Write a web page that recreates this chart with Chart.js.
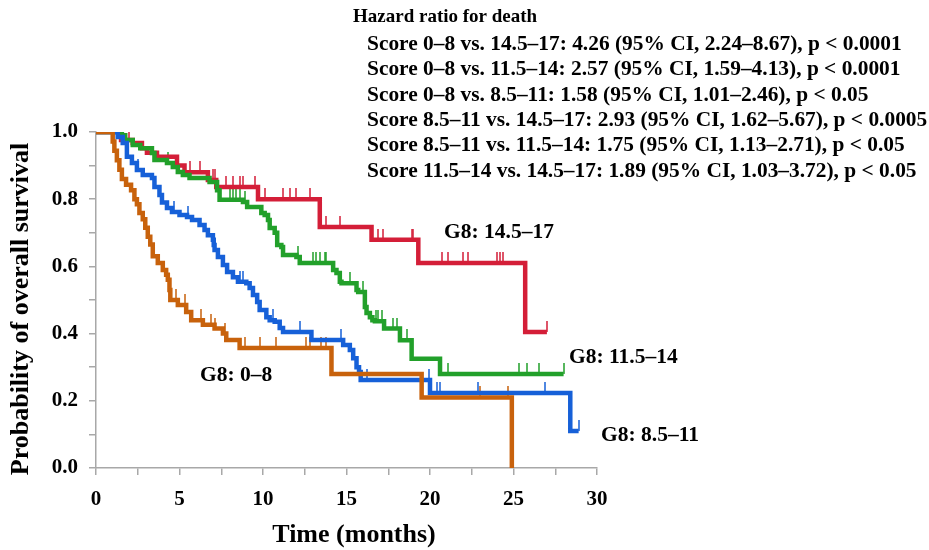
<!DOCTYPE html>
<html>
<head>
<meta charset="utf-8">
<script src="https://cdn.jsdelivr.net/npm/chart.js@4"></script>
<style>
  html, body { margin: 0; padding: 0; background: #fff; }
  #wrap { width: 929px; height: 550px; position: relative; }
</style>
</head>
<body>
<div id="wrap"><canvas id="c"></canvas></div>
<script>
// ---------- DATA ----------
const seriesNames = ['G8: 0–8', 'G8: 8.5–11', 'G8: 11.5–14', 'G8: 14.5–17'];

// G8: 0–8 (orange)
const orangeTimes = [0, 1.0, 1.1, 1.25, 1.4, 1.55, 1.8, 2.1, 2.3, 2.45, 2.6, 2.8, 2.95, 3.1, 3.25, 3.4, 3.7, 4.0, 4.2, 4.3, 4.4, 4.45, 4.9, 5.4, 5.7, 6.4, 7.1, 7.6, 7.8, 8.6, 14.1, 19.5, 24.9];
const orangeSurv  = [1, 0.972, 0.944, 0.916, 0.888, 0.86, 0.843, 0.827, 0.80, 0.785, 0.759, 0.74, 0.715, 0.688, 0.665, 0.63, 0.61, 0.589, 0.575, 0.56, 0.53, 0.50, 0.485, 0.464, 0.44, 0.426, 0.415, 0.40, 0.381, 0.357, 0.28, 0.21, 0];
const orangeCensored = [4.8, 5.3, 6.3, 6.9, 7.1, 7.7, 8.9, 9.8, 10.8, 12.6, 12.8, 13.5, 13.8, 23.0, 24.7];

// G8: 8.5–11 (blue)
const blueTimes = [0, 1.3, 1.6, 1.85, 2.15, 2.45, 2.8, 3.35, 3.5, 3.8, 3.95, 4.25, 4.55, 5.0, 5.45, 5.75, 6.2, 6.5, 6.7, 7.0, 7.05, 7.1, 7.3, 7.6, 7.85, 8.2, 8.5, 9.0, 9.2, 9.4, 9.65, 9.8, 10.2, 10.4, 10.7, 11.0, 11.2, 12.9, 14.8, 15.2, 15.4, 15.6, 15.75, 15.85, 20.0, 28.4, 28.9];
const blueSurv  = [1, 0.985, 0.967, 0.926, 0.908, 0.887, 0.872, 0.863, 0.836, 0.8125, 0.79, 0.774, 0.762, 0.753, 0.747, 0.738, 0.723, 0.708, 0.693, 0.679, 0.664, 0.649, 0.628, 0.604, 0.583, 0.568, 0.554, 0.55, 0.536, 0.515, 0.494, 0.47, 0.449, 0.44, 0.435, 0.417, 0.405, 0.381, 0.366, 0.351, 0.327, 0.30, 0.286, 0.262, 0.223, 0.11, 0.11];
const blueCensored = [2.5, 4.7, 5.5, 7.05, 8.6, 8.8, 10.6, 12.2, 14.7, 16.2, 19.95, 20.4, 20.6, 22.9, 26.9, 28.9];

// G8: 11.5–14 (green)
const greenTimes = [0, 1.55, 1.75, 2.2, 2.65, 3.35, 3.5, 4.25, 4.6, 4.9, 5.2, 5.6, 6.8, 7.25, 7.4, 8.8, 9.05, 9.9, 10.1, 10.3, 10.4, 10.7, 10.85, 11.1, 11.2, 12.0, 12.2, 14.2, 14.4, 14.6, 14.7, 15.6, 15.7, 16.1, 16.2, 16.4, 16.55, 16.7, 17.25, 18.2, 18.9, 20.6, 28.0];
const greenSurv  = [1, 0.99, 0.976, 0.961, 0.952, 0.9375, 0.917, 0.908, 0.896, 0.881, 0.872, 0.863, 0.851, 0.827, 0.798, 0.792, 0.777, 0.759, 0.753, 0.738, 0.714, 0.70, 0.664, 0.658, 0.634, 0.628, 0.61, 0.589, 0.58, 0.554, 0.55, 0.53, 0.524, 0.479, 0.461, 0.449, 0.44, 0.437, 0.415, 0.38, 0.325, 0.28, 0.28];
const greenCensored = [4.3, 8.0, 8.2, 8.4, 8.6, 8.9, 12.1, 13.0, 13.2, 13.4, 13.7, 13.8, 15.2, 16.0, 16.75, 16.9, 17.15, 17.8, 18.0, 18.6, 21.1, 25.3, 25.8, 26.5, 28.0];

// G8: 14.5–17 (red)
const redTimes = [0, 1.5, 2.2, 2.75, 3.05, 3.65, 4.85, 5.3, 6.7, 7.2, 9.7, 13.4, 16.5, 19.3, 25.7, 27.0];
const redSurv  = [1, 0.976, 0.967, 0.952, 0.938, 0.926, 0.90, 0.88, 0.857, 0.836, 0.80, 0.717, 0.679, 0.61, 0.405, 0.405];
const redCensored = [2.0, 5.6, 6.2, 7.0, 7.15, 7.8, 8.2, 8.6, 8.8, 9.5, 10.1, 11.2, 11.6, 12.0, 12.8, 13.8, 14.6, 16.9, 17.2, 18.9, 19.0, 20.7, 21.1, 22.0, 22.3, 24.0, 24.2, 24.4, 27.0];

const xTickValues = [0, 5, 10, 15, 20, 25, 30];
const yTickValues = [0.0, 0.2, 0.4, 0.6, 0.8, 1.0];
const xTitle = 'Time (months)';
const yTitle = 'Probability of overall survival';

const hazardTitle = 'Hazard ratio for death';
const hazardLines = [
  'Score 0–8 vs. 14.5–17: 4.26 (95% CI, 2.24–8.67), p < 0.0001',
  'Score 0–8 vs. 11.5–14: 2.57 (95% CI, 1.59–4.13), p < 0.0001',
  'Score 0–8 vs. 8.5–11: 1.58 (95% CI, 1.01–2.46), p < 0.05',
  'Score 8.5–11 vs. 14.5–17: 2.93 (95% CI, 1.62–5.67), p < 0.0005',
  'Score 8.5–11 vs. 11.5–14: 1.75 (95% CI, 1.13–2.71), p < 0.05',
  'Score 11.5–14 vs. 14.5–17: 1.89 (95% CI, 1.03–3.72), p < 0.05'
];

// ---------- STYLE ----------
const COLORS = ['rgb(200,98,12)', 'rgb(22,96,216)', 'rgb(34,160,42)', 'rgb(212,30,56)'];
const FONT = "'Liberation Serif', 'Times New Roman', serif";

function survAt(times, surv, t) {
  let s = surv[0];
  for (let i = 0; i < times.length; i++) { if (times[i] <= t) s = surv[i]; }
  return s;
}
function tickImage(color) {
  const cv = document.createElement('canvas');
  cv.width = 2; cv.height = 22;
  const g = cv.getContext('2d');
  g.fillStyle = color;
  g.fillRect(0.25, 0, 1.5, 11);
  return cv;
}

const groups = [
  [orangeTimes, orangeSurv, orangeCensored],
  [blueTimes, blueSurv, blueCensored],
  [greenTimes, greenSurv, greenCensored],
  [redTimes, redSurv, redCensored]
];

const datasets = [];
groups.forEach((g, i) => {
  datasets.push({
    label: seriesNames[i],
    data: g[0].map((t, k) => ({ x: t, y: g[1][k] })),
    borderColor: COLORS[i],
    borderWidth: 4.5,
    stepped: true,
    pointRadius: 0,
    fill: false,
    borderJoinStyle: 'miter',
    borderCapStyle: 'butt'
  });
});
groups.forEach((g, i) => {
  datasets.push({
    label: seriesNames[i] + ' censored',
    data: g[2].map(t => ({ x: t, y: survAt(g[0], g[1], t) })),
    showLine: false,
    pointStyle: tickImage(COLORS[i]),
    pointRadius: 5,
    pointHoverRadius: 5
  });
});

const textPlugin = {
  id: 'texts',
  afterDraw(chart) {
    const ctx = chart.ctx;
    ctx.save();
    ctx.fillStyle = '#000';
    ctx.textAlign = 'left';
    ctx.textBaseline = 'alphabetic';
    ctx.font = 'bold 19px ' + FONT;
    ctx.fillText(hazardTitle, 353, 21.5);
    ctx.font = 'bold 21.4px ' + FONT;
    hazardLines.forEach((s, i) => ctx.fillText(s, 367, 50 + i * 25.3));
    ctx.font = 'bold 21.5px ' + FONT;
    ctx.fillText(seriesNames[3], 444, 237.5);
    ctx.fillText(seriesNames[2], 569, 363);
    ctx.fillText(seriesNames[1], 601, 441);
    ctx.fillText(seriesNames[0], 200, 380.5);
    // axis titles
    ctx.font = 'bold 26px ' + FONT;
    ctx.textAlign = 'center';
    ctx.textBaseline = 'middle';
    ctx.fillText(xTitle, 354, 535);
    ctx.translate(21, 309);
    ctx.rotate(-Math.PI / 2);
    ctx.fillText(yTitle, 0, 0);
    ctx.restore();
  }
};

new Chart(document.getElementById('c'), {
  type: 'line',
  data: { datasets },
  options: {
    responsive: true,
    maintainAspectRatio: false,
    devicePixelRatio: 1,
    animation: false,
    events: [],
    layout: { padding: { left: 0, top: 132, right: 332, bottom: 0 } },
    plugins: { legend: { display: false }, tooltip: { enabled: false } },
    scales: {
      x: {
        type: 'linear', min: 0, max: 30,
        afterFit(s) { s.height = 82; },
        grid: { display: true, drawOnChartArea: false, drawTicks: true, tickLength: 7, color: '#a8a8a8', lineWidth: 1.5 },
        border: { display: true, color: '#a8a8a8', width: 1.5 },
        ticks: {
          stepSize: 2.5, autoSkip: false, maxRotation: 0, padding: 12, color: '#000',
          font: { family: FONT, size: 21, weight: 'bold' },
          callback: v => (xTickValues.includes(v) ? String(v) : '')
        },
        title: { display: false }
      },
      y: {
        type: 'linear', min: 0, max: 1,
        afterFit(s) { s.width = 96; },
        grid: { display: true, drawOnChartArea: false, drawTicks: true, tickLength: 7, color: '#a8a8a8', lineWidth: 1.5 },
        border: { display: true, color: '#a8a8a8', width: 1.5 },
        ticks: {
          stepSize: 0.1, autoSkip: false, padding: 11, color: '#000',
          font: { family: FONT, size: 21, weight: 'bold' },
          callback: v => {
            const r = Math.round(v * 10) / 10;
            return yTickValues.some(t => Math.abs(t - r) < 1e-9) ? r.toFixed(1) : '';
          }
        },
        title: { display: false }
      }
    }
  },
  plugins: [textPlugin]
});
</script>
</body>
</html>
